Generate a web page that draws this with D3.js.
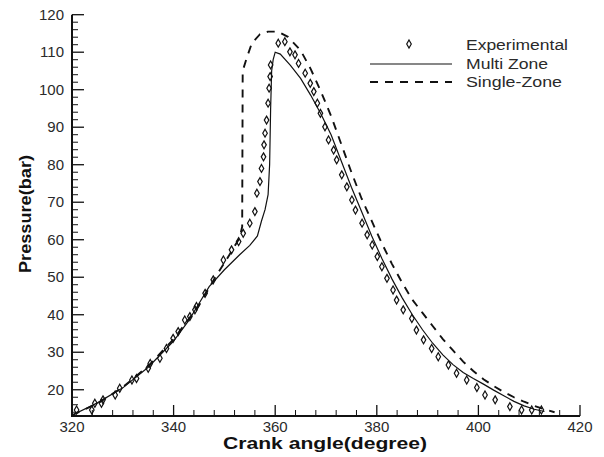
<!DOCTYPE html>
<html><head><meta charset="utf-8">
<script src="https://cdn.jsdelivr.net/npm/d3@7"></script>
<style>body{margin:0;background:#fff}svg{display:block}text{font-family:"Liberation Sans",Arial,sans-serif}</style>
</head><body>
<script>
// ---- data ----
const xTicks = [320, 340, 360, 380, 400, 420];
const yTicks = [20, 30, 40, 50, 60, 70, 80, 90, 100, 110, 120];
const seriesNames = ["Experimental", "Multi Zone", "Single-Zone"];

const expAngle = [320.9,323.9,324.5,325.8,326.1,328.5,329.4,331.8,332.7,335.0,335.4,337.3,338.6,339.9,340.9,342.2,343.2,344.2,
  344.5,346.2,347.8,349.8,351.4,352.8,353.7,355.0,356.0,356.4,357.0,357.3,357.7,357.8,358.0,358.3,358.6,358.8,359.0,359.1,
  360.6,361.9,362.9,363.9,364.6,365.9,366.9,367.6,368.3,368.9,369.8,370.5,371.5,372.1,373.1,374.1,375.1,375.8,377.1,378.1,379.1,380.1,
  381.0,382.0,383.2,383.9,385.2,386.9,387.8,389.2,390.8,392.1,394.1,395.7,397.7,399.7,401.3,403.3,406.2,408.5,410.5,412.4];
const expPressure = [14.6,14.6,16.4,16.4,17.3,18.6,20.4,22.6,23.0,25.7,27.0,28.4,31.0,33.7,35.5,38.6,39.5,41.3,
  42.2,45.7,49.3,54.6,57.3,59.5,61.7,64.4,67.5,72.4,75.5,79.0,82.1,85.3,88.4,91.9,96.4,100.4,103.5,106.6,
  112.4,112.8,110.1,109.3,107.0,104.4,101.7,99.5,96.4,93.7,90.1,86.6,83.9,81.3,77.3,74.1,70.6,67.9,64.4,61.3,58.6,55.5,
  52.8,49.7,46.6,43.9,41.3,39.0,35.9,33.3,31.0,28.8,26.6,24.4,22.6,20.6,18.6,17.3,15.5,14.6,14.6,14.6];

const multiAngle = [320,325,330,335,340,343,345,347,350,353,355,356.5,357.3,358,358.6,358.9,359.1,359.3,359.6,360,361,363,365,367,369,371,373,375,377,379,381,383,385,387,389,391,393,395,397,399,401,403,405,407,409,411,413];
const multiPressure = [13.2,16.5,20.5,26,33,38.5,43,47.5,52,56,58.5,61,65,68,72,80,95,105,108,110,109.5,106.5,103,98.5,93.5,88,81,74,67.5,61,55,49.5,44.5,40,36,32.4,29.3,26.7,24.6,23,21.5,19.9,18.4,16.9,15.7,14.8,14.2];

const singleAngle = [320,325,330,335,340,345,348,351,353,353.5,353.6,354.4,355.4,357,358.6,360.5,362.5,365,367,369,371,373,375,377,379,381,383,385,387,389,391,393,395,397,399,401,403,405,407,409,411,413,415];
const singlePressure = [13.2,16.3,20.7,26.3,33.5,42.5,49.5,56,60.5,63.5,105,108.5,112.4,114.8,115.5,115.5,114.1,110.5,105.5,99.5,93,85.5,78,71,65,59,53.5,48.5,44,40.5,37,33.5,30.5,27.5,25,22.8,21,19.4,18,16.8,15.7,14.8,14];

// ---- layout ----
const W = 604, H = 457;
const svg = d3.select("body").append("svg").attr("width", W).attr("height", H);
const x = d3.scaleLinear().domain([320, 420]).range([72, 580]);
const y = d3.scaleLinear().domain([13, 120]).range([416, 14.7]);
const ink = "#111", txt = "#2a2a2a";

// minor ticks
const g = svg.append("g");
g.selectAll(".ymin").data(d3.range(14, 120, 2).filter(v => v % 10 !== 0)).join("line")
  .attr("x1", x(320)).attr("x2", x(320) + 6).attr("y1", d => y(d)).attr("y2", d => y(d))
  .attr("stroke", ink).attr("stroke-width", 1);
g.selectAll(".xmin").data(d3.range(324, 420, 4).filter(v => v % 20 !== 0)).join("line")
  .attr("x1", d => x(d)).attr("x2", d => x(d)).attr("y1", y(13)).attr("y2", y(13) - 6)
  .attr("stroke", ink).attr("stroke-width", 1);
// major ticks
g.selectAll(".ymaj").data(yTicks).join("line")
  .attr("x1", x(320)).attr("x2", x(320) + 12).attr("y1", d => y(d)).attr("y2", d => y(d))
  .attr("stroke", ink).attr("stroke-width", 1.3);
g.selectAll(".xmaj").data(xTicks).join("line")
  .attr("x1", d => x(d)).attr("x2", d => x(d)).attr("y1", y(13)).attr("y2", y(13) - 11)
  .attr("stroke", ink).attr("stroke-width", 1.3);
// axis lines
g.append("line").attr("x1", x(320)).attr("x2", x(320)).attr("y1", y(120)).attr("y2", y(13) + 1).attr("stroke", ink).attr("stroke-width", 2);
g.append("line").attr("x1", x(320) - 1).attr("x2", x(420)).attr("y1", y(13)).attr("y2", y(13)).attr("stroke", ink).attr("stroke-width", 2);

// tick labels
g.selectAll(".ylab").data(yTicks).join("text")
  .attr("x", x(320) - 8).attr("y", d => y(d) + 5).attr("text-anchor", "end")
  .attr("font-size", 15).attr("fill", txt).text(d => d);
g.selectAll(".xlab").data(xTicks).join("text")
  .attr("x", d => x(d)).attr("y", 432).attr("text-anchor", "middle")
  .attr("font-size", 15).attr("fill", txt).text(d => d);

// axis titles
svg.append("text").attr("x", 223).attr("y", 449).attr("font-size", 17).attr("font-weight", "bold")
  .attr("fill", ink).attr("textLength", 204).attr("lengthAdjust", "spacingAndGlyphs").text("Crank angle(degree)");
svg.append("text").attr("transform", "translate(31,273) rotate(-90)").attr("font-size", 16).attr("font-weight", "bold")
  .attr("fill", ink).attr("textLength", 118).attr("lengthAdjust", "spacingAndGlyphs").text("Pressure(bar)");

// lines
const linePlain = d3.line().x(d => x(d[0])).y(d => y(d[1]));
svg.append("path").datum(d3.zip(multiAngle, multiPressure)).attr("d", linePlain)
  .attr("fill", "none").attr("stroke", ink).attr("stroke-width", 1.2);
svg.append("path").datum(d3.zip(singleAngle, singlePressure)).attr("d", linePlain)
  .attr("fill", "none").attr("stroke", ink).attr("stroke-width", 1.9).attr("stroke-dasharray", "8,7");

// markers
const sym = d3.symbol(d3.symbolDiamond, 18);
svg.selectAll(".m").data(d3.zip(expAngle, expPressure)).join("path")
  .attr("d", sym).attr("transform", d => `translate(${x(d[0])},${y(d[1])})`)
  .attr("fill", "none").attr("stroke", ink).attr("stroke-width", 1.2);

// legend
const lg = svg.append("g");
lg.append("path").attr("d", sym).attr("transform", "translate(409,44)").attr("fill", "none").attr("stroke", ink).attr("stroke-width", 1.2);
lg.append("line").attr("x1", 370).attr("x2", 452).attr("y1", 64).attr("y2", 64).attr("stroke", ink).attr("stroke-width", 1.2);
lg.append("line").attr("x1", 370).attr("x2", 452).attr("y1", 82).attr("y2", 82).attr("stroke", ink).attr("stroke-width", 1.9).attr("stroke-dasharray", "8,7");
const legW = [102, 82, 96];
lg.selectAll(".lt").data(seriesNames).join("text")
  .attr("x", 466).attr("y", (d, i) => 50 + i * 18.5).attr("font-size", 14).attr("fill", txt)
  .attr("textLength", (d, i) => legW[i]).attr("lengthAdjust", "spacingAndGlyphs").text(d => d);
</script>
</body></html>
